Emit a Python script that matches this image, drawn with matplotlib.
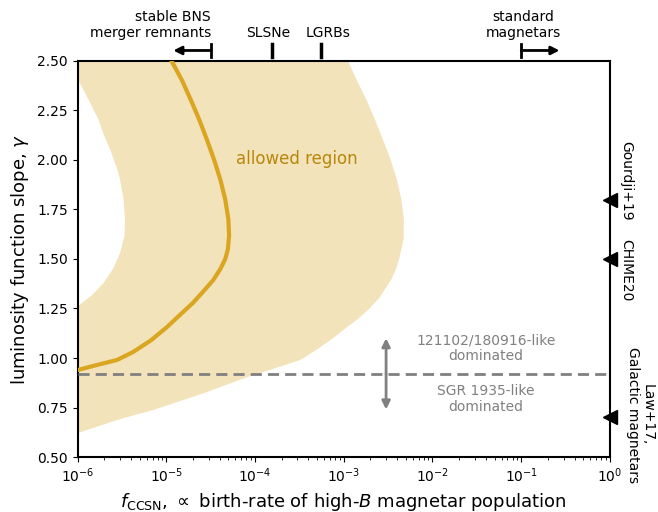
import numpy as np
import matplotlib
matplotlib.use("Agg")
import matplotlib.pyplot as plt

# ---- data (log10 f_CCSN vs gamma) ----
outer_gamma = [0.47, 0.62, 0.68, 0.70, 0.737, 0.78, 0.822, 0.87, 0.914, 0.95, 0.99,
               1.02, 1.05, 1.10, 1.157, 1.20, 1.25, 1.30, 1.35, 1.40, 1.45, 1.50,
               1.60, 1.70, 1.80, 1.90, 2.00, 2.10, 2.20, 2.30, 2.40, 2.50, 2.60]
outer_logf = [-7.0, -6.0, -5.6, -5.45, -5.15, -4.86, -4.58, -4.29, -4.02, -3.76, -3.49,
              -3.38, -3.28, -3.12, -2.96, -2.83, -2.71, -2.605, -2.53, -2.46, -2.41, -2.375,
              -2.325, -2.322, -2.35, -2.40, -2.47, -2.555, -2.645, -2.74, -2.85, -2.95, -3.05]

hole_gamma = [1.20, 1.26, 1.32, 1.377, 1.45, 1.53, 1.62, 1.70, 1.80, 1.90, 1.95,
              2.05, 2.135, 2.20, 2.30, 2.41, 2.46]
hole_logf = [-6.3, -6.0, -5.83, -5.71, -5.60, -5.52, -5.47, -5.465, -5.48, -5.52, -5.55,
             -5.63, -5.71, -5.76, -5.87, -6.0, -6.25]

curve_gamma = [0.939, 0.965, 0.99, 1.03, 1.09, 1.157, 1.22, 1.278, 1.34, 1.394, 1.45,
               1.50, 1.55, 1.62, 1.70, 1.80, 1.90, 2.00, 2.10, 2.20, 2.30, 2.40, 2.50]
curve_logf = [-6.0, -5.78, -5.555, -5.375, -5.17, -4.99, -4.84, -4.70, -4.575, -4.47, -4.39,
              -4.335, -4.305, -4.292, -4.30, -4.335, -4.39, -4.46, -4.54, -4.625, -4.72, -4.82, -4.94]

gamma_split = 0.92
arrow_f = 3e-3

obs_labels = ["Gourdji+19", "CHIME20", "Law+17,\nGalactic magnetars"]
obs_gamma = [1.8, 1.5, 0.7]
obs_text_gamma = [1.894, 1.444, 0.712]

top_marks = ["SLSNe", "LGRBs"]
top_marks_f = [1.57e-4, 5.5e-4]
bns_f = [3.2e-5, 1.2e-5]
mag_f = [0.1, 0.27]

yticks = [0.5, 0.75, 1.0, 1.25, 1.5, 1.75, 2.0, 2.25, 2.5]

# ---- figure ----
fig = plt.figure(figsize=(6.58, 5.12), dpi=100)
ax = fig.add_axes([0.1178, 0.1074, 0.9270 - 0.1178, 0.8809 - 0.1074])

ax.fill(10 ** np.array(outer_logf + [-7.0]), outer_gamma + [2.60],
        color="goldenrod", alpha=0.3, lw=0, zorder=1)
ax.fill(10 ** np.array(hole_logf + [-7.0, -7.0]), hole_gamma + [2.46, 1.20],
        color="white", lw=0, zorder=1.5)
ax.plot(10 ** np.array(curve_logf), curve_gamma, color="goldenrod", lw=3, zorder=3,
        solid_joinstyle="round")

ax.axhline(gamma_split, color="gray", ls="--", lw=2, dashes=(4, 2.2), zorder=4)
ax.annotate("", xy=(arrow_f, gamma_split + 0.18), xytext=(arrow_f, gamma_split),
            arrowprops=dict(arrowstyle="-|>", color="gray", lw=2, mutation_scale=12, shrinkA=0, shrinkB=0))
ax.annotate("", xy=(arrow_f, gamma_split - 0.18), xytext=(arrow_f, gamma_split),
            arrowprops=dict(arrowstyle="-|>", color="gray", lw=2, mutation_scale=12, shrinkA=0, shrinkB=0))
ax.text(0.04, 1.05, "121102/180916-like\ndominated", color="gray", fontsize=10,
        ha="center", va="center", linespacing=1.1)
ax.text(0.04, 0.793, "SGR 1935-like\ndominated", color="gray", fontsize=10,
        ha="center", va="center", linespacing=1.1)

ax.text(10 ** -3.53, 2.005, "allowed region", color="darkgoldenrod", fontsize=12,
        ha="center", va="center")

ax.set_xscale("log")
ax.set_xlim(1e-6, 1)
ax.set_ylim(0.5, 2.5)
ax.set_yticks(yticks)
ax.set_yticklabels([f"{v:.2f}" for v in yticks])
ax.tick_params(labelsize=10)
ax.set_xlabel(r"$f_{\rm CCSN}$, $\propto$ birth-rate of high-$B$ magnetar population", fontsize=13)
ax.set_ylabel(r"luminosity function slope, $\gamma$", fontsize=13)
for s in ax.spines.values():
    s.set_linewidth(1.5)

# right side observation markers
ax.plot([1] * len(obs_gamma), obs_gamma, marker="<", color="black", ls="none",
        markersize=10, clip_on=False, zorder=5)
tr_r = ax.get_yaxis_transform()
ax.text(1.03, obs_text_gamma[0], obs_labels[0], transform=tr_r, rotation=-90,
        ha="center", va="center", fontsize=10)
ax.text(1.03, obs_text_gamma[1], obs_labels[1], transform=tr_r, rotation=-90,
        ha="center", va="center", fontsize=10)
ax.text(1.057, obs_text_gamma[2], obs_labels[2], transform=tr_r, rotation=-90,
        ha="center", va="center", fontsize=10, linespacing=1.1)

# top annotations
tr_t = ax.get_xaxis_transform()
for name, f in zip(top_marks, top_marks_f):
    ax.plot([f, f], [1.010, 1.043], transform=tr_t, color="black", lw=2.5, clip_on=False)
ax.text(top_marks_f[0] * 0.9, 1.053, top_marks[0], transform=tr_t, ha="center", va="bottom", fontsize=10)
ax.text(top_marks_f[1] * 1.2, 1.053, top_marks[1], transform=tr_t, ha="center", va="bottom", fontsize=10)

ax.plot([bns_f[0], bns_f[0]], [1.010, 1.043], transform=tr_t, color="black", lw=2, clip_on=False)
ax.annotate("", xy=(bns_f[1], 1.0265), xytext=(bns_f[0], 1.0265), xycoords=tr_t, textcoords=tr_t,
            arrowprops=dict(arrowstyle="-|>", color="black", lw=2, mutation_scale=12, shrinkA=0, shrinkB=0))
ax.text(bns_f[0], 1.053, "stable BNS\nmerger remnants", transform=tr_t, ha="right", va="bottom",
        fontsize=10, multialignment="right", linespacing=1.15)

ax.plot([mag_f[0], mag_f[0]], [1.010, 1.043], transform=tr_t, color="black", lw=2, clip_on=False)
ax.annotate("", xy=(mag_f[1], 1.0265), xytext=(mag_f[0], 1.0265), xycoords=tr_t, textcoords=tr_t,
            arrowprops=dict(arrowstyle="-|>", color="black", lw=2, mutation_scale=12, shrinkA=0, shrinkB=0))
ax.text(mag_f[0] * 1.05, 1.053, "standard\nmagnetars", transform=tr_t, ha="center", va="bottom",
        fontsize=10, linespacing=1.15)

fig.savefig("out.png", dpi=100)
